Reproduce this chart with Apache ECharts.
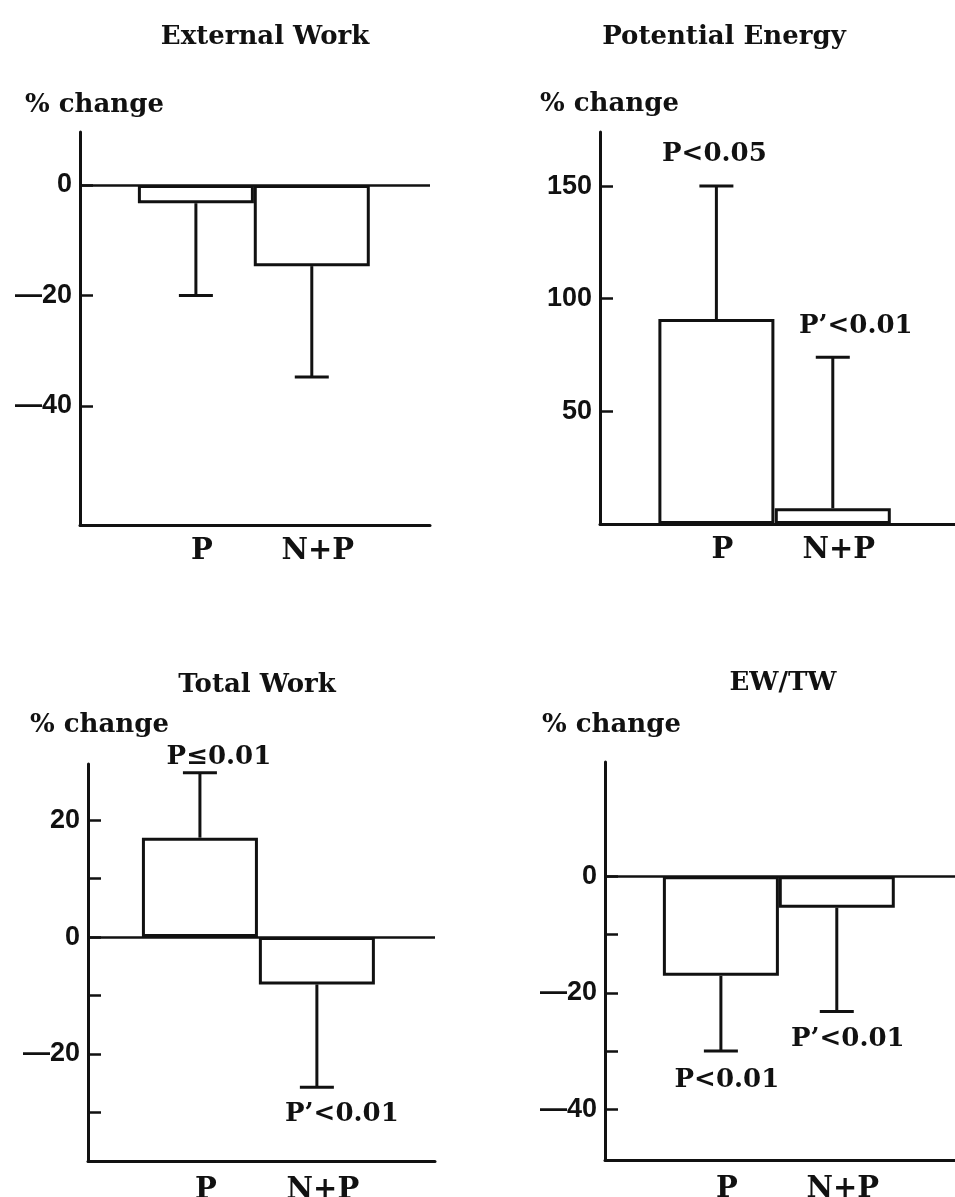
<!DOCTYPE html>
<html>
<head>
<meta charset="utf-8">
<script src="https://cdn.jsdelivr.net/npm/echarts@6/dist/echarts.min.js"></script>
<style>
  html, body { margin: 0; padding: 0; background: #fff; }
  #chart { width: 955px; height: 1197px; }
</style>
</head>
<body>
<div id="chart"></div>
<script>
// groups on the x axis
const categories = ['P', 'N+P'];

// % change (bar) and end of the error bar, per panel
const externalWork = [-3.3, -14.7];
const externalWorkErr = [-20, -34.8];
const potentialEnergy = [91, 7];
const potentialEnergyErr = [150, 74];
const totalWork = [17, -8.1];
const totalWorkErr = [28.1, -25.7];
const ewtw = [-17.1, -5.4];
const ewtwErr = [-30, -23.2];

// significance notes
const externalWorkNotes = ['', ''];
const potentialEnergyNotes = ['P<0.05', 'P’<0.01'];
const totalWorkNotes = ['P≤0.01', 'P’<0.01'];
const ewtwNotes = ['P<0.01', 'P’<0.01'];

// y ticks and tick labels
const externalWorkTicks = [0, -20, -40];
const externalWorkLabels = [0, -20, -40];
const potentialEnergyTicks = [150, 100, 50];
const potentialEnergyLabels = [150, 100, 50];
const totalWorkTicks = [20, 10, 0, -10, -20, -30];
const totalWorkLabels = [20, 0, -20];
const ewtwTicks = [0, -10, -20, -30, -40];
const ewtwLabels = [0, -20, -40];

const INK = '#111';
const SERIF = '"DejaVu Serif", serif';

// layout of the four panels
const panels = [
    {
        title: 'External Work', titleAt: [265, 37], changeAt: [25, 105],
        grid: { left: 80, top: 132, width: 350, height: 393 },
        x: [0, 3.02], y: [-61.6, 9.6], labelMargin: 12, zeroLine: true,
        values: externalWork, ends: externalWorkErr, notes: externalWorkNotes, noteOff: [[0, 0], [0, 0]],
        ticks: externalWorkTicks, labels: externalWorkLabels
    },
    {
        title: 'Potential Energy', titleAt: [724, 37], changeAt: [540, 104],
        grid: { left: 600, top: 132, width: 355, height: 392 },
        x: [0, 3.05], y: [0, 174], labelMargin: 12, zeroLine: false,
        values: potentialEnergy, ends: potentialEnergyErr, notes: potentialEnergyNotes, noteOff: [[-2, -32], [23, -31]],
        ticks: potentialEnergyTicks, labels: potentialEnergyLabels
    },
    {
        title: 'Total Work', titleAt: [257, 685], changeAt: [30, 725],
        grid: { left: 88, top: 764, width: 347, height: 397 },
        x: [0.043, 3.01], y: [-38.3, 29.6], labelMargin: 15, zeroLine: true,
        values: totalWork, ends: totalWorkErr, notes: totalWorkNotes, noteOff: [[19, -16], [25, 27]],
        ticks: totalWorkTicks, labels: totalWorkLabels
    },
    {
        title: 'EW/TW', titleAt: [783, 683], changeAt: [542, 725],
        grid: { left: 605, top: 762, width: 350, height: 398 },
        x: [0, 3.02], y: [-48.7, 19.6], labelMargin: 15, zeroLine: true,
        values: ewtw, ends: ewtwErr, notes: ewtwNotes, noteOff: [[6, 29], [11, 28]],
        ticks: ewtwTicks, labels: ewtwLabels
    }
];

const fmtTick = v => v < 0 ? '—' + Math.abs(v) : String(v);

const grids = [], xAxes = [], yAxes = [], series = [], texts = [];

panels.forEach((p, pi) => {
    grids.push(Object.assign({ outerBoundsMode: 'none', containLabel: false }, p.grid));
    xAxes.push({
        type: 'value', gridIndex: pi, min: p.x[0], max: p.x[1],
        splitLine: { show: false },
        axisLine: { onZero: false, lineStyle: { color: INK, width: 3 } },
        axisTick: { show: false },
        axisLabel: {
            customValues: [1, 2],
            formatter: v => categories[Math.round(v) - 1],
            color: INK, fontFamily: SERIF, fontWeight: 'bold', fontSize: 29,
            margin: p.labelMargin, padding: [0, 0, 0, 12]
        }
    });
    yAxes.push({
        type: 'value', gridIndex: pi, min: p.y[0], max: p.y[1],
        splitLine: { show: false },
        axisLine: { show: true, onZero: false, lineStyle: { color: INK, width: 3 } },
        axisTick: { show: true, inside: true, length: 13, customValues: p.ticks, lineStyle: { color: INK, width: 2.5 } },
        axisLabel: {
            customValues: p.labels, formatter: fmtTick,
            color: INK, fontFamily: '"Liberation Sans", sans-serif', fontWeight: 'bold', fontSize: 27, margin: 8
        }
    });
    const bar = {
        type: 'bar', xAxisIndex: pi, yAxisIndex: pi,
        data: p.values.map((v, i) => [i + 1, v]),
        barWidth: 116,
        itemStyle: { color: '#fff', borderColor: INK, borderWidth: 3 },
        z: 2
    };
    if (p.zeroLine) {
        bar.markLine = {
            silent: true, symbol: 'none', label: { show: false },
            lineStyle: { color: INK, width: 2.5, type: 'solid' },
            data: [{ yAxis: 0 }]
        };
    }
    series.push(bar);
    series.push({
        type: 'custom', xAxisIndex: pi, yAxisIndex: pi, z: 3,
        data: p.values.map((v, i) => [i + 1, v, p.ends[i]]),
        renderItem: (params, api) => {
            const i = params.dataIndex;
            const a = api.coord([api.value(0), api.value(1)]);
            const b = api.coord([api.value(0), api.value(2)]);
            const children = [
                { type: 'line', shape: { x1: a[0], y1: a[1], x2: b[0], y2: b[1] }, style: { stroke: INK, lineWidth: 3 } },
                { type: 'line', shape: { x1: b[0] - 17, y1: b[1], x2: b[0] + 17, y2: b[1] }, style: { stroke: INK, lineWidth: 3 } }
            ];
            if (p.notes[i]) {
                children.push({
                    type: 'text', x: b[0] + p.noteOff[i][0], y: b[1] + p.noteOff[i][1],
                    style: { text: p.notes[i], fill: INK, font: 'bold 26px ' + SERIF, textAlign: 'center', textVerticalAlign: 'middle' }
                });
            }
            return { type: 'group', children };
        }
    });
    texts.push({
        type: 'text', x: p.titleAt[0], y: p.titleAt[1],
        style: { text: p.title, fill: INK, font: 'bold 26px ' + SERIF, textAlign: 'center', textVerticalAlign: 'middle' }
    });
    texts.push({
        type: 'text', x: p.changeAt[0], y: p.changeAt[1],
        style: { text: '% change', fill: INK, font: 'bold 26px ' + SERIF, textAlign: 'left', textVerticalAlign: 'middle' }
    });
});

const chart = echarts.init(document.getElementById('chart'));
chart.setOption({
    animation: false,
    backgroundColor: '#fff',
    grid: grids,
    xAxis: xAxes,
    yAxis: yAxes,
    series: series,
    graphic: texts
});
</script>
</body>
</html>
